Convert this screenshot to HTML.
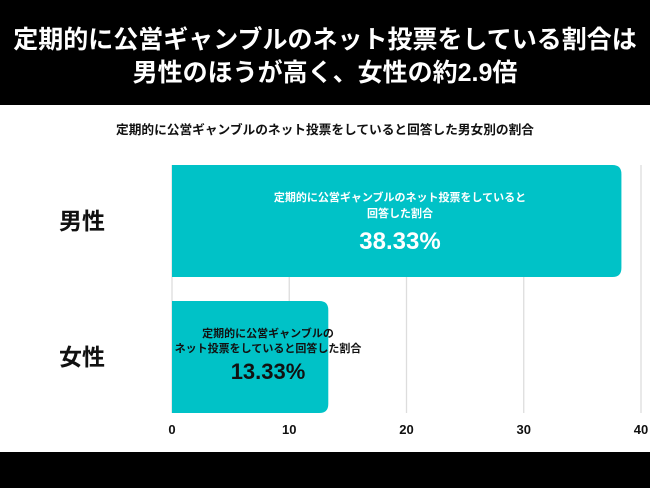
<!DOCTYPE html>
<html><head><meta charset="utf-8"><style>
body{margin:0;width:650px;height:488px;overflow:hidden;background:#fff;font-family:"Liberation Sans","Noto Sans CJK JP",sans-serif;}
#hdr{position:absolute;left:0;top:0;width:650px;height:105px;background:#000;color:#fff;font-weight:bold;font-size:25px;text-align:center;line-height:33px;padding-top:24px;box-sizing:border-box;}
#ftr{position:absolute;left:0;top:452px;width:650px;height:36px;background:#000;}
#sub{position:absolute;left:0;top:119px;width:650px;text-align:center;font-size:12.7px;font-weight:bold;color:#111;}
svg{position:absolute;left:0;top:0;}
</style></head><body>
<div id="hdr">定期的に公営ギャンブルのネット投票をしている割合は<br>男性のほうが高く、女性の約2.9倍</div>
<div id="sub">定期的に公営ギャンブルのネット投票をしていると回答した男女別の割合</div>
<div id="ftr"></div>
<svg id="chart" width="650" height="488"></svg>
<script>
const categories=["男性","女性"];
const values=[38.33,13.33];
const valueLabels=["38.33%","13.33%"];
const ticks=[0,10,20,30,40];
const svg=document.getElementById('chart');
const NS='http://www.w3.org/2000/svg';
const x0=172,x1=641,xmax=40;
const xs=v=>x0+(x1-x0)*v/xmax;
const bandTop=[165,301],bandH=112;
function mk(t,a,txt){const e=document.createElementNS(NS,t);for(const k in a)e.setAttribute(k,a[k]);if(txt!=null)e.textContent=txt;svg.appendChild(e);return e;}
ticks.forEach(t=>{
 const g=mk('line',{x1:xs(t),x2:xs(t),y1:165,y2:413,stroke:'#ddd','stroke-width':1.3});
 
 
 const l=mk('text',{x:xs(t),y:434,'text-anchor':'middle','font-size':13,'font-weight':'bold',fill:'#111'},t);
 
 
});
categories.forEach((c,i)=>{
 const y=bandTop[i],w=xs(values[i])-x0;
 const p=mk('path',{d:`M${x0},${y}H${x0+w-9}Q${x0+w},${y} ${x0+w},${y+9}V${y+bandH-9}Q${x0+w},${y+bandH} ${x0+w-9},${y+bandH}H${x0}Z`,fill:'#00c2c7'});
 
 
 const cl=mk('text',{x:82,y:y+bandH/2+8,'text-anchor':'middle','font-size':23,'font-weight':'bold',fill:'#111'},c);
 
 
});
[["定期的に公営ギャンブルのネット投票をしていると",400,201,11],["回答した割合",400,217,11]].forEach((a,k)=>{
 const t=mk('text',{x:a[1],y:a[2],'text-anchor':'middle','font-size':a[3],'font-weight':'bold',fill:'#fff'},a[0]);
 
 
});
const mv=mk('text',{x:400,y:249,'text-anchor':'middle','font-size':24,'font-weight':'bold',fill:'#fff'},valueLabels[0]);


[["定期的に公営ギャンブルの",268,337],["ネット投票をしていると回答した割合",268,352]].forEach((a,k)=>{
 const t=mk('text',{x:a[1],y:a[2],'text-anchor':'middle','font-size':11,'font-weight':'bold',fill:'#111'},a[0]);
 
 
});
const fv=mk('text',{x:268,y:379,'text-anchor':'middle','font-size':22,'font-weight':'bold',fill:'#111'},valueLabels[1]);


</script>
</body></html>
